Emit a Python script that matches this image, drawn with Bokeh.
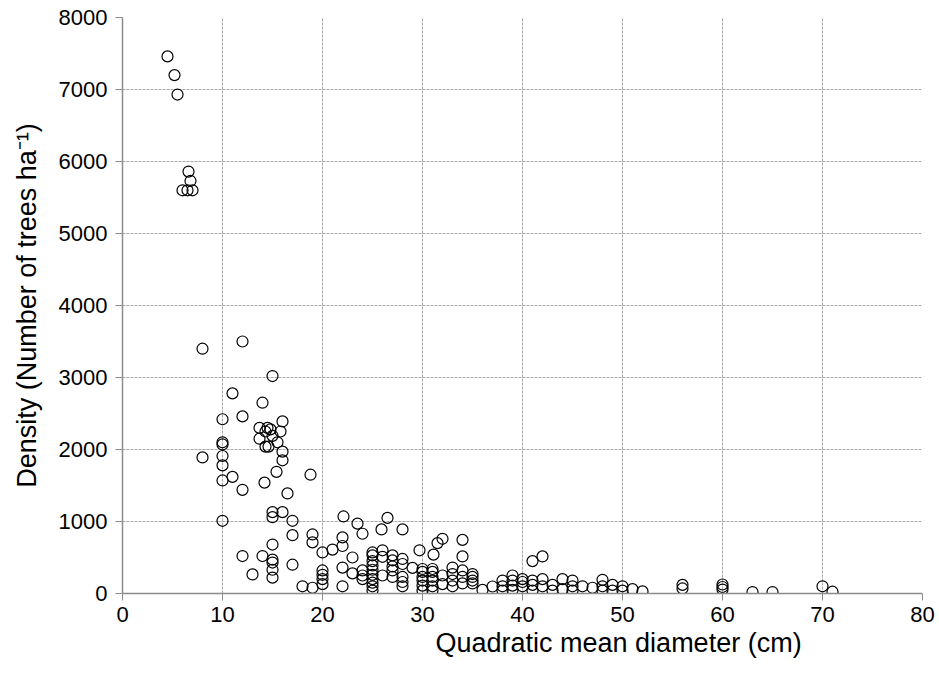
from bokeh.plotting import figure
from bokeh.models import Range1d, FixedTicker, ColumnDataSource, Title
from bokeh.embed import file_html
from bokeh.resources import INLINE

# Quadratic mean diameter (cm) and density (trees/ha)
qmd = [4.5, 5.2, 5.5, 6.6, 6.8, 6.0, 6.5, 7.0,
       8, 12, 15, 11, 14, 10, 12, 16,
       13.7, 14.5, 14.3, 14.8, 15.8, 13.7, 15, 15.5, 14.3, 14.6, 16, 16,
       10, 10, 8, 10, 10, 11, 10, 12, 15.4, 14.2, 18.8, 16.5,
       10, 15, 15, 16, 17, 17, 19, 19,
       12, 14, 15, 15, 15, 15, 15, 13, 17, 18, 19,
       22.1, 23.5, 26.5, 24, 25.9, 28, 20, 21, 22, 22, 23, 22, 23, 22,
       20, 20, 20, 20, 24, 24, 24,
       25, 25, 25, 25, 25, 25, 25, 25, 25, 25,
       26, 26, 26,
       27, 27, 27, 27, 27,
       28, 28, 28, 28, 28,
       29, 29.7,
       30, 30, 30, 30, 30, 30,
       31.1, 31.5, 32,
       31, 31, 31, 31, 31, 31,
       32, 32,
       33, 33, 33, 33,
       34, 34, 34, 34, 34,
       35, 35, 35, 35,
       36, 37, 38, 38, 38, 39, 39, 39, 39,
       40, 40, 40, 41, 42, 41, 41, 41, 42, 42, 43, 43, 44, 44, 45, 45, 45,
       46, 47, 48, 48, 48, 49, 49, 50, 50, 51, 52, 56, 56, 60, 60, 60,
       63, 65, 70, 71]
density = [7460, 7200, 6930, 5860, 5730, 5600, 5600, 5600,
           3400, 3500, 3020, 2780, 2650, 2420, 2460, 2390,
           2300, 2300, 2250, 2280, 2250, 2150, 2190, 2100, 2040, 2040, 1970, 1850,
           2100, 2070, 1890, 1910, 1780, 1620, 1570, 1440, 1690, 1540, 1650, 1390,
           1010, 1130, 1060, 1130, 1010, 810, 820, 710,
           520, 520, 680, 470, 430, 330, 220, 265, 400, 100, 80,
           1070, 970, 1050, 830, 890, 890, 570, 610, 780, 660, 500, 360, 280, 100,
           320, 260, 200, 130, 320, 250, 200,
           570, 530, 450, 390, 330, 260, 200, 150, 100, 40,
           600, 510, 250,
           530, 460, 375, 320, 230,
           480, 410, 230, 160, 100,
           356, 600,
           340, 300, 230, 180, 110, 40,
           540, 700, 760,
           340, 300, 230, 180, 100, 40,
           250, 130,
           360, 270, 180, 100,
           745, 515, 320, 230, 140,
           270, 230, 180, 140,
           50, 97, 180, 100, 40, 250, 180, 110, 50,
           200, 160, 100, 450, 515, 180, 120, 40, 200, 100, 120, 40, 200, 60, 180, 100, 40,
           100, 80, 190, 100, 40, 120, 40, 100, 40, 60, 30, 120, 70, 125, 90, 55,
           20, 20, 100, 25]

x_ticks = [0, 10, 20, 30, 40, 50, 60, 70, 80]
y_ticks = [0, 1000, 2000, 3000, 4000, 5000, 6000, 7000, 8000]

FONT = "Liberation Sans"
GRID = "#a6a6a6"
AXIS = "#8c8c8c"

source = ColumnDataSource(data=dict(x=qmd, y=density))

p = figure(width=939, height=675, output_backend="svg", toolbar_location=None,
           x_range=Range1d(0, 80), y_range=Range1d(0, 8000))
p.min_border_left = 122
p.min_border_right = 17
p.min_border_top = 17
p.min_border_bottom = 82
p.outline_line_color = None
p.background_fill_color = "white"
p.border_fill_color = "white"

p.scatter("x", "y", source=source, size=11, marker="circle",
          fill_color=None, line_color="black", line_width=1.2)

for ax, ticks in ((p.xaxis, x_ticks), (p.yaxis, y_ticks)):
    ax.ticker = FixedTicker(ticks=ticks)
    ax.minor_tick_line_color = None
    ax.major_tick_in = 0
    ax.major_tick_out = 7
    ax.major_tick_line_color = AXIS
    ax.axis_line_color = AXIS
    ax.axis_line_width = 1.5
    ax.major_label_text_font = FONT
    ax.major_label_text_font_size = "22px"
    ax.major_label_text_color = "black"
    ax.axis_label_text_font = FONT
    ax.axis_label_text_font_size = "27px"
    ax.axis_label_text_font_style = "normal"
    ax.axis_label_text_color = "black"

p.yaxis.axis_label = "Density (Number of trees ha\u207b\u00b9)"
p.xaxis.major_label_standoff = 6
p.yaxis.major_label_standoff = 8
p.yaxis.axis_label_standoff = 14

# x-axis title, placed off-centre as in the reference
xt = Title(text="Quadratic mean diameter (cm)", align="left", offset=313,
           text_font=FONT, text_font_size="27px", text_font_style="normal",
           text_color="black", standoff=2)
p.add_layout(xt, "below")

for g in (p.xgrid, p.ygrid):
    g.grid_line_color = GRID
    g.grid_line_dash = "3 1"
    g.grid_line_width = 1

open("out.html", "w").write(file_html(p, INLINE))
